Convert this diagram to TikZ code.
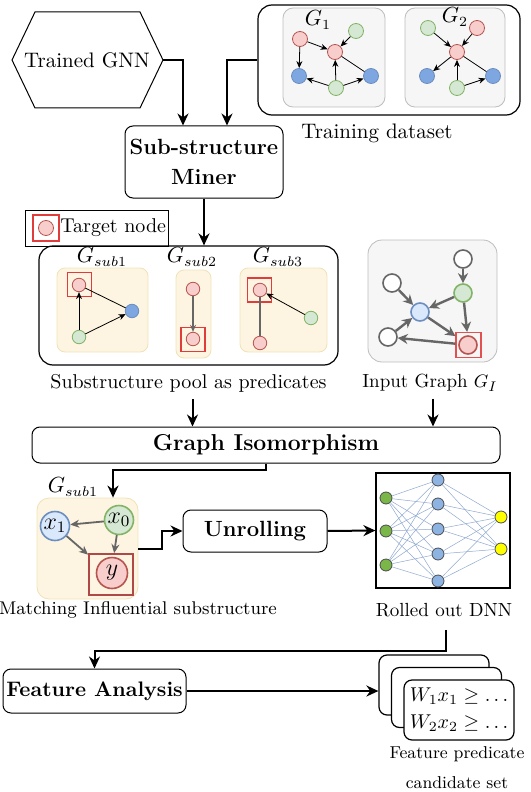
\documentclass[tikz,border=0pt]{standalone}
\usetikzlibrary{arrows.meta,positioning}

\definecolor{pinkfill}{HTML}{F8CECC}
\definecolor{pinkdraw}{HTML}{B85450}
\definecolor{greenfill}{HTML}{D5E8D4}
\definecolor{greendraw}{HTML}{82B366}
\definecolor{bluefill}{HTML}{7EA6E0}
\definecolor{bluedraw}{HTML}{6C8EBF}
\definecolor{lbluefill}{HTML}{DAE8FC}
\definecolor{yfill}{HTML}{FDF5E1}
\definecolor{ydraw}{HTML}{F0E2B6}
\definecolor{gfill}{HTML}{F6F6F6}
\definecolor{gdraw}{HTML}{BDBDBD}
\definecolor{edgegray}{HTML}{666666}
\definecolor{tred}{HTML}{E03C3C}
\definecolor{dred}{HTML}{B04848}
\definecolor{nnedgecol}{HTML}{8FA8D0}
\definecolor{nninput}{HTML}{7AB648}
\definecolor{nnhidden}{HTML}{8DB3E2}
\definecolor{nnout}{HTML}{FFFF00}

\tikzset{
  plainbox/.style={draw, line width=0.5pt, inner sep=0pt},
  bigbox/.style={draw, rounded corners=7pt, line width=0.6pt, inner sep=0pt},
  stepbox/.style={draw, rounded corners=4pt, line width=0.5pt, inner sep=0pt, align=center, font=\fontsize{11}{15}\selectfont\bfseries},
  gbox/.style={draw=gdraw, fill=gfill, rounded corners=5pt, inner sep=0pt},
  ybox/.style={draw=ydraw, fill=yfill, rounded corners=4pt, inner sep=0pt},
  card/.style={draw, fill=white, rounded corners=4pt, line width=0.6pt, minimum width=55pt, minimum height=30pt, inner sep=0pt},
  flow/.style={line width=1pt, -{Stealth[length=6pt,width=5.5pt]}},
  % small graph nodes
  rn/.style={circle, draw=pinkdraw, fill=pinkfill, line width=0.4pt, minimum size=7.5pt, inner sep=0pt},
  gn/.style={circle, draw=greendraw, fill=greenfill, line width=0.4pt, minimum size=7.5pt, inner sep=0pt},
  bn/.style={circle, draw=bluedraw, fill=bluefill, line width=0.4pt, minimum size=7.5pt, inner sep=0pt},
  tsq/.style={draw=tred, line width=0.6pt, minimum size=12pt, inner sep=0pt},
  sarr/.style={line width=0.4pt, -{Stealth[length=3.5pt,width=3pt]}},
  sline/.style={line width=0.4pt},
  garr/.style={draw=edgegray, line width=0.6pt, -{Stealth[length=3.5pt,width=3pt]}},
  % input graph
  ign/.style={circle, draw=edgegray, fill=white, line width=0.8pt, minimum size=9pt, inner sep=0pt},
  iarr/.style={draw=edgegray, line width=1.2pt, -{Stealth[length=5pt,width=5pt]}},
  % matching substructure
  mn/.style={circle, line width=0.8pt, minimum size=14.5pt, inner sep=0pt, font=\fontsize{12}{14}\selectfont},
  marr/.style={draw=edgegray, line width=0.9pt, -{Stealth[length=4.5pt,width=4pt]}},
  % rolled out network
  nnode/.style={circle, draw=black!70, line width=0.4pt, minimum size=6pt, inner sep=0pt},
  nnedge/.style={draw=nnedgecol, line width=0.25pt}
}

\begin{document}
\begin{tikzpicture}[x=0.5pt,y=-0.5pt,font=\fontsize{10.5}{12.6}\selectfont]
\useasboundingbox (0,0) rectangle (530,792);

% trained GNN
\draw[line width=0.5pt] (12,60) -- (35,12) -- (140,12) -- (163,60) -- (140,108) -- (35,108) -- cycle;
\node (gnn) at (87,60) {Trained GNN};
\coordinate (gnntip) at (163,60);

% training dataset
\node[bigbox, minimum width=131pt, minimum height=55pt] (train) at (389,60) {};
\node[gbox, minimum width=51pt, minimum height=49.5pt] (g1box) at (334,57.5) {};
\node[gbox, minimum width=50pt, minimum height=49.5pt] (g2box) at (455,57.5) {};
\node (g1lbl) at (318,20) {$G_1$};
\node (g2lbl) at (455,17) {$G_2$};
\node[rn] (a1) at (300,39) {};
\node[rn] (a2) at (335,52) {};
\node[gn] (a3) at (356,31) {};
\node[bn] (a4) at (299,76) {};
\node[gn] (a5) at (336,88) {};
\node[bn] (a6) at (371,76) {};
\draw[sarr] (a1) -- (a2);
\draw[sarr] (a1) -- (a4);
\draw[sarr] (a3) -- (a2);
\draw[sarr] (a5) -- (a2);
\draw[sarr] (a5) -- (a4);
\draw[sarr] (a5) -- (a6);
\draw[sline] (a2) -- (a6);
\node[gn] (b1) at (428,28) {};
\node[rn] (b2) at (477,28) {};
\node[rn] (b3) at (457,52) {};
\node[bn] (b4) at (427,76) {};
\node[gn] (b5) at (457,88) {};
\node[bn] (b6) at (493,76) {};
\draw[sarr] (b1) -- (b3);
\draw[sarr] (b2) -- (b3);
\draw[sarr] (b3) -- (b4);
\draw[sarr] (b5) -- (b3);
\draw[sarr] (b5) -- (b6);
\draw[sline] (b3) -- (b6);
\node (trainlbl) at (377,133) {Training dataset};

% miner
\node[stepbox, minimum width=79pt, minimum height=36pt] (miner) at (204,162) {Sub-structure\\Miner};
\draw[flow] (gnntip) -| ([xshift=-10.5pt]miner.north);
\draw[flow] (train.west) -| ([xshift=11.5pt]miner.north);

% legend
\node[plainbox, minimum width=71.5pt, minimum height=18pt] (legend) at (96.5,228) {};
\node[rn] (lgn) at (46,228) {};
\node[tsq, minimum size=13pt] (lgsq) at (46,228) {};
\node[anchor=west, inner sep=0pt, font=\fontsize{10}{12}\selectfont] (lgtxt) at (60,228) {Target node};

% substructure pool
\node[bigbox, minimum width=149.5pt, minimum height=59.5pt] (pool) at (188.5,305.5) {};
\draw[flow] (miner.south) -- (miner.south |- pool.north);
\node (s1lbl) at (102,257) {$G_{sub1}$};
\node (s2lbl) at (192,257) {$G_{sub2}$};
\node (s3lbl) at (278,257) {$G_{sub3}$};
\node[ybox, minimum width=45.5pt, minimum height=42pt] (s1box) at (102.5,310) {};
\node[ybox, minimum width=17.5pt, minimum height=44pt] (s2box) at (193.5,314) {};
\node[ybox, minimum width=43.5pt, minimum height=42pt] (s3box) at (283.5,310) {};
\node[rn, minimum size=6.75pt] (c1) at (79,285) {};
\node[bn, minimum size=6.75pt] (c2) at (132,311) {};
\node[gn, minimum size=6.75pt] (c3) at (79,337) {};
\node[tsq] (c1sq) at (79.5,284.5) {};
\draw[sarr] (c3) -- (c1);
\draw[sarr] (c3) -- (c2);
\draw[sline] (c1) -- (c2);
\node[rn, minimum size=6.75pt] (d1) at (193,289) {};
\node[rn, minimum size=6.75pt] (d2) at (193,339) {};
\node[tsq] (d2sq) at (193,339.5) {};
\draw[garr] (d1) -- (d2);
\node[rn, minimum size=6.75pt] (e1) at (260,290) {};
\node[rn, minimum size=6.75pt] (e2) at (260,343) {};
\node[gn, minimum size=6.75pt] (e3) at (311,318) {};
\node[tsq] (e1sq) at (259.5,290) {};
\draw[sarr] (e3) -- (e1);
\draw[draw=edgegray, line width=0.6pt] (e1) -- (e2);
\node[font=\fontsize{10}{12}\selectfont] (poollbl) at (188.5,383) {Substructure pool as predicates};

% input graph
\node[gbox, rounded corners=7pt, minimum width=64.5pt, minimum height=61pt] (inbox) at (432.5,301) {};
\node[ign] (f1) at (463,259) {};
\node[ign] (f2) at (392,283) {};
\node[ign, draw=greendraw, fill=greenfill] (f3) at (463,293) {};
\node[ign, draw=bluedraw, fill=lbluefill] (f4) at (420,312) {};
\node[ign] (f5) at (388,337) {};
\node[ign, draw=pinkdraw, fill=pinkfill] (f6) at (468,345) {};
\node[tsq, draw=tred!90, minimum size=12.5pt] (f6sq) at (468.5,345) {};
\draw[iarr] (f1) -- (f3);
\draw[iarr] (f2) -- (f4);
\draw[iarr] (f3) -- (f4);
\draw[iarr] (f3) -- (f6sq);
\draw[iarr] (f4) -- (f6sq);
\draw[iarr] (f6sq) -- (f5);
\draw[iarr] (f5) -- (f4);
\node[font=\fontsize{9.5}{12}\selectfont] (inlbl) at (430,383) {Input Graph $G_I$};

% graph isomorphism
\node[stepbox, font=\fontsize{11.5}{14}\selectfont\bfseries, minimum width=234pt, minimum height=18pt] (gi) at (266,445) {Graph Isomorphism};
\draw[flow] ([xshift=2pt]poollbl.south) -- ([xshift=2pt]poollbl.south |- gi.north);
\draw[flow] ([xshift=1.5pt]inlbl.south) -- ([xshift=1.5pt]inlbl.south |- gi.north);

% matching substructure
\node (mlbl) at (73,487) {$G_{sub1}$};
\node[ybox, rounded corners=6pt, minimum width=50.5pt, minimum height=50.5pt] (match) at (87.5,548.5) {};
\node[mn, draw=bluedraw, fill=lbluefill] (x1) at (55,526) {$x_1$};
\node[mn, draw=greendraw, fill=greenfill] (x0) at (119,520) {$x_0$};
\node[mn, draw=pinkdraw, fill=pinkfill, minimum size=15.5pt] (y) at (112,573) {$y$};
\node[draw=dred, line width=0.9pt, minimum width=22pt, minimum height=20.5pt, inner sep=0pt] (ysq) at (111,574.5) {};
\draw[marr] (x0) -- (x1);
\draw[marr] (x0) -- (ysq);
\draw[marr] (x1) -- (ysq);
\draw[flow] (gi.south) -- ++(0,6) -| ([xshift=12.75pt]match.north);
\node[font=\fontsize{9.2}{11}\selectfont] (matchlbl) at (138,610) {Matching Influential substructure};

% unrolling
\node[stepbox, minimum width=72pt, minimum height=21pt] (unroll) at (255,531) {Unrolling};
\draw[flow] (match.east) -- ++(24,0) |- (unroll.west);

% rolled out DNN
\node[plainbox, line width=0.6pt, minimum width=67pt, minimum height=57.5pt] (dnn) at (443,530.5) {};
\draw[flow] (unroll.east) -- (dnn.west);
\foreach \y [count=\i] in {498,531,565}
  \node[nnode, fill=nninput] (i\i) at (386,\y) {};
\foreach \y [count=\i] in {480,504,529,554,581}
  \node[nnode, fill=nnhidden] (h\i) at (438,\y) {};
\foreach \y [count=\i] in {517,549}
  \node[nnode, fill=nnout] (o\i) at (501,\y) {};
\foreach \i in {1,2,3}
  \foreach \j in {1,...,5}
    \draw[nnedge] (i\i) -- (h\j);
\foreach \j in {1,...,5}
  \foreach \k in {1,2}
    \draw[nnedge] (h\j) -- (o\k);
\node[font=\fontsize{9.5}{11}\selectfont] (dnnlbl) at (444,610) {Rolled out DNN};

% feature analysis
\node[stepbox, font=\fontsize{10.5}{13}\selectfont\bfseries, minimum width=91.5pt, minimum height=22pt] (fa) at (94.5,691) {Feature Analysis};
\draw[flow] ([xshift=1pt,yshift=-3pt]dnnlbl.south) -- ++(0,21) -| (fa.north);

% candidate set
\node[card] (card1) at (434,685) {};
\node[card] (card2) at (446.5,697.5) {};
\node[card, align=left, font=\fontsize{10}{13.5}\selectfont] (card3) at (459,710) {$W_1x_1 \geq \dots$\\$W_2x_2 \geq \dots$};
\draw[flow] (fa.east) -- (fa.east -| card1.west);
\node[align=center, font=\fontsize{8.6}{15}\selectfont] (candlbl) at (457,768) {Feature predicate\\candidate set};
\end{tikzpicture}
\end{document}
